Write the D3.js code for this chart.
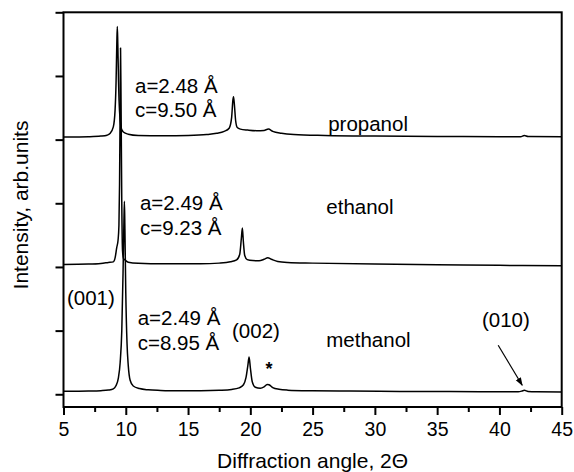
<!DOCTYPE html>
<html><head><meta charset="utf-8">
<script src="https://cdn.jsdelivr.net/npm/d3@7"></script>
<style>
html,body{margin:0;padding:0;background:#fff;}
svg text{font-family:"Liberation Sans",Arial,Helvetica,sans-serif;fill:#000;}
</style></head>
<body><svg id="c" width="574" height="472"></svg>
<script>
// ---- data ----
const xTicks = [5, 10, 15, 20, 25, 30, 35, 40, 45];
const xMinorTicks = [7.5, 12.5, 17.5, 22.5, 27.5, 32.5, 37.5, 42.5];
const yTicks = [0, 1, 2, 3, 4, 5, 6];

const methanolAngle = [5, 6, 7, 8, 8.6, 9.0, 9.2, 9.4, 9.55, 9.68, 9.78, 9.85, 9.89, 9.93, 10.0, 10.1, 10.2, 10.35, 10.6, 11.1, 11.8, 12.8, 14, 16, 17.5, 18.5, 19.1, 19.45, 19.65, 19.8, 19.9, 20.0, 20.15, 20.4, 20.8, 21.1, 21.35, 21.5, 21.8, 22.3, 23, 25, 28, 32, 36, 40, 41.5, 41.8, 42.0, 42.3, 43, 45];
const methanolIntensity = [0.047, 0.048, 0.05, 0.056, 0.066, 0.085, 0.13, 0.25, 0.5, 1.0, 1.9, 2.7, 3.03, 2.6, 1.6, 0.8, 0.45, 0.22, 0.13, 0.09, 0.07, 0.06, 0.054, 0.055, 0.062, 0.075, 0.1, 0.15, 0.26, 0.45, 0.585, 0.42, 0.2, 0.11, 0.095, 0.115, 0.155, 0.15, 0.105, 0.078, 0.065, 0.055, 0.05, 0.045, 0.043, 0.04, 0.04, 0.05, 0.062, 0.045, 0.04, 0.037];

const ethanolAngle = [5, 7, 8, 8.6, 9.0, 9.15, 9.27, 9.38, 9.45, 9.5, 9.55, 9.58, 9.62, 9.68, 9.74, 9.82, 9.94, 10.2, 11, 13, 16, 17.5, 18.4, 18.9, 19.15, 19.28, 19.36, 19.44, 19.55, 19.75, 20.2, 20.7, 21.1, 21.4, 21.7, 22.2, 23, 25, 30, 35, 40, 45];
const ethanolIntensity = [2.04, 2.045, 2.055, 2.07, 2.08, 2.15, 2.3, 2.42, 2.65, 3.3, 4.6, 5.44, 4.6, 3.0, 2.25, 2.13, 2.11, 2.075, 2.058, 2.05, 2.05, 2.06, 2.08, 2.11, 2.2, 2.45, 2.61, 2.4, 2.18, 2.115, 2.1, 2.097, 2.12, 2.145, 2.12, 2.085, 2.07, 2.06, 2.045, 2.035, 2.025, 2.02];

const propanolAngle = [5, 6, 7, 8, 8.5, 8.73, 9.0, 9.14, 9.22, 9.28, 9.32, 9.36, 9.42, 9.46, 9.55, 9.65, 9.8, 10.2, 11, 13, 15, 16.5, 17.3, 17.9, 18.3, 18.5, 18.6, 18.65, 18.72, 18.82, 18.95, 19.2, 19.8, 20.5, 21.1, 21.45, 21.8, 22.5, 23.5, 26, 30, 35, 40, 41.7, 42.0, 42.3, 45];
const propanolIntensity = [4.04, 4.042, 4.045, 4.055, 4.07, 4.095, 4.2, 4.46, 4.9, 5.5, 5.775, 5.5, 4.9, 4.62, 4.3, 4.17, 4.12, 4.085, 4.065, 4.06, 4.065, 4.08, 4.1, 4.13, 4.18, 4.35, 4.62, 4.674, 4.55, 4.3, 4.19, 4.165, 4.15, 4.14, 4.145, 4.165, 4.13, 4.1, 4.08, 4.065, 4.055, 4.05, 4.045, 4.045, 4.065, 4.05, 4.045];

// annotation texts with anchor points in data coordinates [2θ, intensity]
const labelTexts = ["a=2.48 Å", "c=9.50 Å", "propanol", "a=2.49 Å", "c=9.23 Å", "ethanol", "(001)", "a=2.49 Å", "c=8.95 Å", "(002)", "methanol", "(010)"];
const labelAngle = [10.74, 10.74, 26.25, 11.14, 11.14, 26.1, 5.28, 10.96, 10.96, 18.53, 26.1, 38.6];
const labelIntensity = [4.732, 4.355, 4.14, 2.893, 2.5, 2.83, 1.41, 1.085, 0.69, 0.88, 0.74, 1.05];
const starPoint = [21.5, 0.30];
const arrowFrom = [39.9, 0.77];
const arrowTo = [41.83, 0.141];

// ---- chart ----
(function () {
const svg = d3.select("#c");
const pL = 63.5, pR = 561.7, pT = 12.3, pB = 407;
const x = d3.scaleLinear().domain([5, 45]).range([pL, pR]);
const y = d3.scaleLinear().domain([-0.2, 6]).range([pB, pT]);

svg.append("defs").append("marker")
  .attr("id", "ah").attr("viewBox", "0 0 10 10").attr("refX", 9).attr("refY", 5)
  .attr("markerWidth", 7).attr("markerHeight", 7).attr("orient", "auto")
  .append("path").attr("d", "M0,1.5 L10,5 L0,8.5 Z").attr("fill", "#000");

const line = d3.line().x(d => x(d[0])).y(d => y(d[1])).curve(d3.curveMonotoneX);
const series = [
  [methanolAngle, methanolIntensity],
  [ethanolAngle, ethanolIntensity],
  [propanolAngle, propanolIntensity]
];
series.forEach(([a, v]) => {
  svg.append("path").datum(a.map((t, i) => [t, v[i]]))
    .attr("d", line).attr("fill", "none").attr("stroke", "#000")
    .attr("stroke-width", 1.5).attr("stroke-linejoin", "round");
});

// frame
svg.append("rect").attr("x", pL).attr("y", pT).attr("width", pR - pL).attr("height", pB - pT)
  .attr("fill", "none").attr("stroke", "#000").attr("stroke-width", 2);

// bottom axis
const xAxis = svg.append("g").attr("transform", `translate(0,${pB})`)
  .call(d3.axisBottom(x).tickValues(xTicks).tickSize(8).tickPadding(7).tickFormat(d3.format("d")));
xAxis.select(".domain").remove();
xAxis.attr("font-family", null).attr("font-size", null);
xAxis.selectAll("line").attr("stroke-width", 2);
xAxis.selectAll("text").attr("font-size", 19.5);
const xMinor = svg.append("g").attr("transform", `translate(0,${pB})`)
  .call(d3.axisBottom(x).tickValues(xMinorTicks).tickSize(5).tickFormat(""));
xMinor.select(".domain").remove();
xMinor.selectAll("line").attr("stroke-width", 2);

// left axis
const yAxis = svg.append("g").attr("transform", `translate(${pL},0)`)
  .call(d3.axisLeft(y).tickValues(yTicks).tickSize(8).tickFormat(""));
yAxis.select(".domain").remove();
yAxis.selectAll("line").attr("stroke-width", 2);

// axis titles
svg.append("text").attr("x", (pL + pR) / 2).attr("y", 468).attr("text-anchor", "middle")
  .attr("font-size", 21).text("Diffraction angle, 2Θ");
svg.append("text").attr("transform", `translate(28,205) rotate(-90)`)
  .attr("text-anchor", "middle").attr("font-size", 21).text("Intensity, arb.units");

// annotations
labelTexts.forEach((t, i) => {
  svg.append("text").attr("x", x(labelAngle[i])).attr("y", y(labelIntensity[i]))
    .attr("font-size", 20.5).text(t);
});
svg.append("text").attr("x", x(starPoint[0])).attr("y", y(starPoint[1]))
  .attr("text-anchor", "middle").attr("font-size", 18).attr("font-weight", "bold").text("*");
svg.append("line").attr("x1", x(arrowFrom[0])).attr("y1", y(arrowFrom[1]))
  .attr("x2", x(arrowTo[0])).attr("y2", y(arrowTo[1]))
  .attr("stroke", "#000").attr("stroke-width", 1.2).attr("marker-end", "url(#ah)");
})();
</script></body></html>
